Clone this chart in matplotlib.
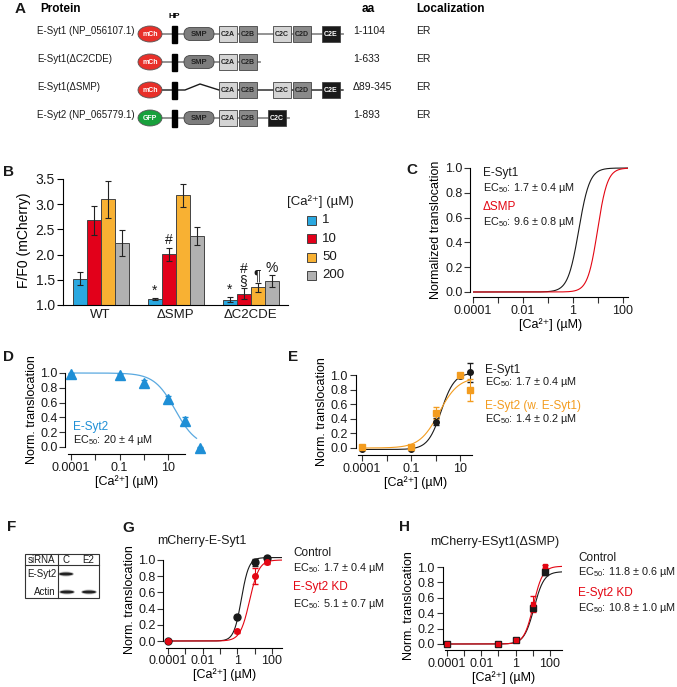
import numpy as np
import matplotlib.pyplot as plt
from matplotlib.patches import Ellipse, Rectangle, FancyBboxPatch
from matplotlib.ticker import NullLocator

plt.rcParams['font.family'] = ['Liberation Sans', 'DejaVu Sans']
plt.rcParams['mathtext.fontset'] = 'custom'
plt.rcParams['mathtext.rm'] = 'Liberation Sans'
plt.rcParams['mathtext.it'] = 'Liberation Sans:italic'
plt.rcParams['axes.linewidth'] = 0.8

W, H = 677, 687
CA_LABEL = '[Ca²⁺] (µM)'

# ---- A: constructs
protein_names = ['E-Syt1 (NP_056107.1)', 'E-Syt1(ΔC2CDE)', 'E-Syt1(ΔSMP)', 'E-Syt2 (NP_065779.1)']
protein_tags = ['mCh', 'mCh', 'mCh', 'GFP']
protein_domains = [['SMP', 'C2A', 'C2B', 'C2C', 'C2D', 'C2E'],
                   ['SMP', 'C2A', 'C2B'],
                   ['C2A', 'C2B', 'C2C', 'C2D', 'C2E'],
                   ['SMP', 'C2A', 'C2B', 'C2C-E2']]
protein_aa = ['1-1104', '1-633', 'Δ89-345', '1-893']
protein_loc = ['ER', 'ER', 'ER', 'ER']

# ---- B: F/F0 bars
ca_levels = ['1', '10', '50', '200']
b_groups = ['WT', 'ΔSMP', 'ΔC2CDE']
b_wt = [1.52, 2.68, 3.10, 2.23]
b_wt_err = [0.13, 0.29, 0.37, 0.26]
b_dsmp = [1.12, 2.01, 3.18, 2.37]
b_dsmp_err = [0.02, 0.13, 0.23, 0.17]
b_dc2 = [1.10, 1.22, 1.35, 1.47]
b_dc2_err = [0.05, 0.11, 0.09, 0.12]
b_marks = [['', '', '', ''], ['*', '#', '', ''], ['*', '#\n§', '¶', '%']]

# ---- C: fits
c_names = ['E-Syt1', 'ΔSMP']
c_ec50 = [1.7, 9.6]
c_ec50_err = [0.4, 0.8]
c_hill = [2.0, 2.2]

# ---- D: E-Syt2 alone (zero Ca plotted at first tick)
d_ca = [0.001, 0.1, 1, 10, 50, 200]
d_val = [0.99, 0.97, 0.87, 0.65, 0.35, -0.01]
d_err = [0.01, 0.02, 0.03, 0.04, 0.05, 0.01]
d_ec50, d_ec50_err, d_hill = 20, 4, 1.0

# ---- E: E-Syt1 and E-Syt2 (w. E-Syt1)
e_ca = [0.001, 0.1, 1, 10, 25]
e_esyt1 = [-0.02, -0.02, 0.36, 0.99, 1.04]
e_esyt1_err = [0.01, 0.01, 0.05, 0.03, 0.13]
e_esyt2 = [0.02, 0.01, 0.48, 1.00, 0.79]
e_esyt2_err = [0.01, 0.01, 0.08, 0.02, 0.15]
e_fit1 = (1.7, 1.6, 1.03, -0.02)
e_fit2 = (1.4, 1.1, 0.97, 0.0)
e_ec50_err = [0.4, 0.2]

# ---- F: blot
blot_lanes = ['C', 'E2']
blot_rows = ['E-Syt2', 'Actin']
blot_signal = [[1.0, 0.0], [1.0, 1.0]]

# ---- G: mCherry-E-Syt1
g_ca = [0.0001, 1, 10, 50]
g_ctrl = [0.0, 0.30, 0.97, 1.03]
g_ctrl_err = [0.01, 0.02, 0.04, 0.02]
g_kd = [0.0, 0.12, 0.80, 0.97]
g_kd_err = [0.01, 0.02, 0.10, 0.02]
g_fit_ctrl = (1.7, 2.0, 1.03)
g_fit_kd = (5.1, 1.6, 1.0)
g_ec50_err = [0.4, 0.7]

# ---- H: mCherry-ESyt1(dSMP)
h_ca = [0.0001, 0.1, 1, 10, 50]
h_ctrl = [0.0, 0.0, 0.05, 0.47, 0.93]
h_ctrl_err = [0.01, 0.01, 0.01, 0.04, 0.03]
h_kd = [0.0, 0.0, 0.05, 0.52, 1.01]
h_kd_err = [0.01, 0.01, 0.01, 0.10, 0.02]
h_fit_ctrl = (11.8, 1.5, 0.94)
h_fit_kd = (10.8, 1.6, 1.01)
h_ec50_err = ['0.6', '1.0']

BLUE, RED, ORANGE, GRAY = '#2aa8e0', '#e2001a', '#f8b133', '#b1b1b1'
DBLUE, EORANGE, CRED = '#1f8fd6', '#f39c1f', '#e30613'
INK = '#1a1a1a'


def hill(x, ec, n, top=1.0, bottom=0.0):
    return bottom + (top - bottom) / (1 + (ec / x) ** n)


fig = plt.figure(figsize=(W / 100, H / 100), dpi=100)
ov = fig.add_axes([0, 0, 1, 1])
ov.set_xlim(0, W)
ov.set_ylim(H, 0)
ov.axis('off')


def place(xpx, xval, ypx, yval, xlim, ylim, logx=False):
    f = np.log10 if logx else (lambda v: v)
    sx = (xpx[1] - xpx[0]) / (f(xval[1]) - f(xval[0]))
    left = xpx[0] + (f(xlim[0]) - f(xval[0])) * sx
    right = xpx[0] + (f(xlim[1]) - f(xval[0])) * sx
    sy = (ypx[1] - ypx[0]) / (yval[1] - yval[0])
    bottom = ypx[0] + (ylim[0] - yval[0]) * sy
    top = ypx[0] + (ylim[1] - yval[0]) * sy
    ax = fig.add_axes([left / W, 1 - bottom / H, (right - left) / W, (bottom - top) / H])
    if logx:
        ax.set_xscale('log')
    ax.set_xlim(xlim)
    ax.set_ylim(ylim)
    ax.patch.set_visible(False)
    return ax


def igor(ax, ylabel, xticks, xlabels, fs=9):
    for s in ['top', 'right']:
        ax.spines[s].set_visible(False)
    ax.spines['left'].set_position(('outward', 2))
    ax.spines['bottom'].set_position(('outward', 3))
    ax.spines['left'].set_bounds(0, 1)
    ax.tick_params(direction='out', length=4, width=0.8, labelsize=fs, pad=1.5, colors='#333', labelcolor=INK)
    ax.set_yticks(np.arange(0, 1.01, 0.2), ['%.1f' % v for v in np.arange(0, 1.01, 0.2)])
    ax.set_xticks(xticks, xlabels)
    ax.xaxis.set_minor_locator(NullLocator())
    ax.set_ylabel(ylabel, fontsize=fs, labelpad=2)
    ax.set_xlabel(CA_LABEL, fontsize=fs, labelpad=1)


def ec_text(x, y, val, err, color=INK):
    ov.text(x, y, 'EC$_{50}$: %s ± %s µM' % (val, err), fontsize=7.8, color=color, va='center')


# panel letters
for lab, x, y in [('A', 20, 9), ('B', 9, 172), ('C', 412, 170), ('D', 8, 357),
                  ('E', 293, 357), ('F', 12, 527), ('G', 128, 528), ('H', 405, 527)]:
    ov.text(x, y, lab, fontsize=11, fontweight='bold', ha='center', va='center', color=INK)

# ---------------- A
ov.text(40, 9, 'Protein', fontsize=8.5, fontweight='bold', va='center')
ov.text(362, 9, 'aa', fontsize=8.5, fontweight='bold', va='center')
ov.text(416, 9, 'Localization', fontsize=8.5, fontweight='bold', va='center')
ov.text(174.5, 17, 'HP', fontsize=6, fontweight='bold', ha='center', va='center')
dom_pos = {'SMP': 183, 'C2A': 219, 'C2B': 239, 'C2C': 273, 'C2D': 293, 'C2E': 322, 'C2C-E2': 268}
dom_fill = {'SMP': '#7d7d7d', 'C2A': '#d4d4d4', 'C2B': '#8a8a8a', 'C2C': '#d4d4d4',
            'C2D': '#8a8a8a', 'C2E': '#1a1a1a', 'C2C-E2': '#1a1a1a'}
row_y = [34, 62, 90, 118]
for i, name in enumerate(protein_names):
    y = row_y[i]
    doms = protein_domains[i]
    ov.text(37, y - 3, name, fontsize=7, va='center', color=INK)
    ov.text(353, y - 3, protein_aa[i], fontsize=7.5, va='center', color=INK)
    ov.text(416, y - 3, protein_loc[i], fontsize=7.5, va='center', color=INK)
    last = max(dom_pos[d] + (32 if d == 'SMP' else 18) for d in doms)
    lcol = INK if 'SMP' not in doms else '#8a8a8a'
    if 'SMP' in doms:
        ov.plot([162, last + 3], [y, y], color=lcol, lw=1.3, zorder=1)
    else:
        ov.plot([162, 185, 200, 219, last + 3], [y, y, y - 6, y, y], color=lcol, lw=1.0, zorder=1)
    tag_col = '#e8302a' if protein_tags[i] == 'mCh' else '#18a03c'
    ov.add_patch(Ellipse((150, y), 24, 16, fc=tag_col, ec='#555', lw=0.6, zorder=2))
    ov.text(150, y, protein_tags[i], fontsize=5, color='white', fontweight='bold',
            ha='center', va='center', zorder=3)
    ov.add_patch(Rectangle((172, y - 8.5), 5, 17, fc='black', ec='black', zorder=2))
    for d in doms:
        x0 = dom_pos[d]
        txt = d.split('-')[0]
        dark = dom_fill[d] == '#1a1a1a'
        if d == 'SMP':
            ov.add_patch(FancyBboxPatch((x0 + 1, y - 6.5), 30, 13, boxstyle='round,pad=0,rounding_size=6.5',
                                        fc=dom_fill[d], ec='#444', lw=0.6, zorder=2))
            ov.text(x0 + 16, y, txt, fontsize=5.5, color='#222', fontweight='bold', ha='center',
                    va='center', zorder=3)
        else:
            ov.add_patch(Rectangle((x0, y - 8), 18, 16, fc=dom_fill[d], ec='#444', lw=0.6, zorder=2))
            ov.text(x0 + 9, y, txt, fontsize=5, color='white' if dark else '#222', fontweight='bold',
                    ha='center', va='center', zorder=3)

# ---------------- B
axb = place((63, 288), (-0.5, 2.5), (305, 179), (1.0, 3.5), (-0.5, 2.5), (1.0, 3.55))
bw = 14 / 75
cols = [BLUE, RED, ORANGE, GRAY]
for g, (vals, errs) in enumerate([(b_wt, b_wt_err), (b_dsmp, b_dsmp_err), (b_dc2, b_dc2_err)]):
    for j in range(4):
        xx = g + (j - 1.5) * bw
        axb.bar(xx, vals[j] - 1.0, bottom=1.0, width=bw, color=cols[j], edgecolor='#444', lw=0.7)
        axb.errorbar(xx, vals[j], yerr=errs[j], color='#222', lw=0.8, capsize=2, capthick=0.8)
        if b_marks[g][j]:
            axb.text(xx, vals[j] + errs[j] + 0.01, b_marks[g][j], ha='center', va='bottom',
                     fontsize=10, linespacing=0.85, color=INK)
for s in ['top', 'right']:
    axb.spines[s].set_visible(False)
axb.spines['left'].set_bounds(1.0, 3.5)
axb.set_yticks([1.0, 1.5, 2.0, 2.5, 3.0, 3.5], ['1.0', '1.5', '2.0', '2.5', '3.0', '3.5'])
axb.set_xticks(range(3), b_groups)
axb.tick_params(axis='y', direction='out', length=4, width=0.8, labelsize=10, pad=2, labelcolor=INK)
axb.tick_params(axis='x', length=0, labelsize=9.5, pad=3, labelcolor=INK)
axb.set_ylabel('F/F0 (mCherry)', fontsize=10, labelpad=3)
# legend drawn by hand
ov.text(287, 202, CA_LABEL, fontsize=9.5, va='center', color=INK)
for j, lev in enumerate(ca_levels):
    ly = 220 + j * 18.5
    ov.add_patch(Rectangle((307, ly - 4.5), 9, 9, fc=cols[j], ec='#444', lw=0.7))
    ov.text(322, ly, lev, fontsize=9.5, va='center', color=INK)

# ---------------- C
axc = place((473, 623), (1e-4, 1e2), (292, 168), (0, 1), (1e-4, 160), (-0.01, 1.02), logx=True)
xs = np.logspace(-4, np.log10(160), 400)
for k, col in enumerate([INK, CRED]):
    axc.plot(xs, hill(xs, c_ec50[k], c_hill[k]), color=col, lw=0.8)
igor(axc, 'Normalized translocation', [10.0 ** p for p in range(-4, 3)],
     ['0.0001', '', '0.01', '', '1', '', '100'])
ov.text(483, 173, c_names[0], fontsize=8.5, va='center', color=INK)
ec_text(483, 188, c_ec50[0], c_ec50_err[0])
ov.text(483, 207, c_names[1], fontsize=8.5, va='center', color=CRED)
ec_text(483, 222, c_ec50[1], c_ec50_err[1])

# ---------------- D
axd = place((71, 168), (1e-3, 10), (447, 373), (0, 1), (10 ** -3.12, 10 ** 1.7), (-0.04, 1.04), logx=True)
xs = np.logspace(-3, np.log10(150), 300)
axd.plot(xs, 1 / (1 + (xs / d_ec50) ** d_hill), color='#5aa9e0', lw=0.9, clip_on=False)
axd.errorbar(d_ca, d_val, yerr=d_err, fmt='^', color=DBLUE, ms=7, lw=0.8, capsize=2, clip_on=False)
igor(axd, 'Norm. translocation', [10.0 ** p for p in range(-3, 2)], ['0.0001', '', '0.1', '', '10'])
ov.text(73, 427, 'E-Syt2', fontsize=8.5, va='center', color=DBLUE)
ec_text(73, 440, d_ec50, d_ec50_err)

# ---------------- E
axe = place((362, 460), (1e-3, 10), (448, 375), (0, 1), (10 ** -3.15, 10 ** 1.5), (-0.04, 1.04), logx=True)
xs = np.logspace(-3, np.log10(25), 300)
axe.plot(xs, hill(xs, *e_fit1), color=INK, lw=0.8, clip_on=False)
axe.plot(xs, hill(xs, *e_fit2), color=EORANGE, lw=0.8, clip_on=False)
axe.errorbar(e_ca, e_esyt1, yerr=e_esyt1_err, fmt='o', color=INK, ms=4, lw=0.8, capsize=2, clip_on=False)
axe.errorbar(e_ca, e_esyt2, yerr=e_esyt2_err, fmt='s', color=EORANGE, ms=5, lw=0.8, capsize=2, clip_on=False)
igor(axe, 'Norm. translocation', [10.0 ** p for p in range(-3, 2)], ['0.0001', '', '0.1', '', '10'])
ov.text(485, 370, 'E-Syt1', fontsize=8.5, va='center', color=INK)
ec_text(485, 382, e_fit1[0], e_ec50_err[0])
ov.text(485, 406, 'E-Syt2 (w. E-Syt1)', fontsize=8.5, va='center', color=EORANGE)
ec_text(485, 419, e_fit2[0], e_ec50_err[1])

# ---------------- F
ov.add_patch(Rectangle((25, 554), 74, 44, fc='white', ec='#333', lw=0.8))
ov.plot([25, 99], [565, 565], color='#333', lw=0.8)
ov.plot([58, 58], [554, 598], color='#333', lw=0.8)
ov.text(41, 560, 'siRNA', fontsize=7, ha='center', va='center', color=INK)
lane_x = [66, 88]
for k, lane in enumerate(blot_lanes):
    ov.text(lane_x[k], 560, lane, fontsize=7, ha='center', va='center', color=INK)
band_y = [574, 592]
for r, row in enumerate(blot_rows):
    if r == 0:
        ov.text(27, band_y[r], row, fontsize=7, ha='left', va='center', color=INK)
    else:
        ov.text(56, band_y[r], row, fontsize=7, ha='right', va='center', color=INK)
    for k in range(len(blot_lanes)):
        s = blot_signal[r][k]
        if s > 0:
            bx = lane_x[k] + (0 if r == 0 else 1)
            ov.add_patch(Ellipse((bx, band_y[r]), 16, 5, fc='#888', ec='none', alpha=0.5 * s))
            ov.add_patch(Ellipse((bx, band_y[r]), 14, 3, fc='#222', ec='none', alpha=s))

# ---------------- G
axg = place((168, 272), (1e-4, 100), (641, 560), (0, 1), (10 ** -4.1, 10 ** 2.58), (-0.03, 1.06), logx=True)
xs = np.logspace(-4, 2.58, 400)
axg.plot(xs, hill(xs, *g_fit_ctrl), color=INK, lw=0.8)
axg.plot(xs, hill(xs, *g_fit_kd), color=CRED, lw=0.8)
axg.errorbar(g_ca, g_ctrl, yerr=g_ctrl_err, fmt='o', color=INK, ms=5, lw=0.8, capsize=2, clip_on=False)
axg.errorbar(g_ca, g_kd, yerr=g_kd_err, fmt='o', color=CRED, ms=4, lw=0.8, capsize=2, clip_on=False)
igor(axg, 'Norm. translocation', [10.0 ** p for p in range(-4, 3)],
     ['0.0001', '', '0.01', '', '1', '', '100'])
ov.text(202, 541, 'mCherry-E-Syt1', fontsize=9, ha='center', va='center', color=INK)
ov.text(293, 553, 'Control', fontsize=8.5, va='center', color=INK)
ec_text(293, 568, g_fit_ctrl[0], g_ec50_err[0])
ov.text(293, 587, 'E-Syt2 KD', fontsize=8.5, va='center', color=CRED)
ec_text(293, 604, g_fit_kd[0], g_ec50_err[1])

# ---------------- H
axh = place((447, 550), (1e-4, 100), (644, 567), (0, 1), (10 ** -4.1, 10 ** 2.7), (-0.03, 1.04), logx=True)
xs = np.logspace(-4, 2.7, 400)
axh.plot(xs, hill(xs, *h_fit_ctrl), color=INK, lw=0.8)
axh.plot(xs, hill(xs, *h_fit_kd), color=CRED, lw=0.8)
axh.errorbar(h_ca, h_ctrl, yerr=h_ctrl_err, fmt='s', color=INK, ms=4.5, lw=0.8, capsize=2, clip_on=False)
axh.errorbar(h_ca, h_kd, yerr=h_kd_err, fmt='s', color=CRED, ms=3.5, lw=0.8, capsize=2, clip_on=False)
igor(axh, 'Norm. translocation', [10.0 ** p for p in range(-4, 3)],
     ['0.0001', '', '0.01', '', '1', '', '100'])
ov.text(495, 542, 'mCherry-ESyt1(ΔSMP)', fontsize=9, ha='center', va='center', color=INK)
ov.text(578, 558, 'Control', fontsize=8.5, va='center', color=INK)
ec_text(578, 572, h_fit_ctrl[0], h_ec50_err[0])
ov.text(578, 593, 'E-Syt2 KD', fontsize=8.5, va='center', color=CRED)
ec_text(578, 608, h_fit_kd[0], h_ec50_err[1])

fig.savefig('out.png', dpi=100)
